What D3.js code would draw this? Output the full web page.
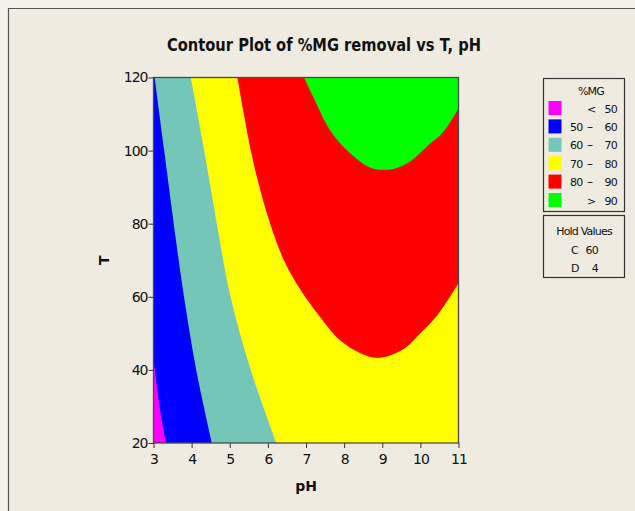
<!DOCTYPE html>
<html>
<head>
<meta charset="utf-8">
<title>Contour Plot of %MG removal vs T, pH</title>
<style>
  body { margin: 0; background: #f4f1ea; }
  svg text { font-family: "DejaVu Sans", Verdana, sans-serif; fill: #111; }
  .tick text { font-size: 14px; letter-spacing: -1px; }
</style>
</head>
<body>
<div id="chart"></div>
<script src="https://cdnjs.cloudflare.com/ajax/libs/d3/7.8.5/d3.min.js"></script>
<script>
// x / y ticks
const phTicks = [3, 4, 5, 6, 7, 8, 9, 10, 11];
const tTicks = [20, 40, 60, 80, 100, 120];

// contour bands (low -> high), colours and legend labels
const levels = ["< 50", "50 – 60", "60 – 70", "70 – 80", "80 – 90", "> 90"];
const bandColors = ["#ff00ff", "#0000ff", "#74c6b9", "#ffff00", "#ff0000", "#00ff00"];

// boundary lines, [pH, T]
const line50 = [[3.0, 42.7], [3.12, 33], [3.22, 26], [3.33, 20]];
const line60 = [[3.03, 120], [3.28, 100], [3.53, 80], [3.8, 60], [4.12, 40], [4.53, 20]];
const line70 = [[3.98, 120], [4.33, 100], [4.66, 80], [5.02, 60], [5.55, 40], [6.22, 20]];
const line80 = [[5.20, 120], [5.37, 110], [5.55, 100], [5.78, 90], [6.06, 80], [6.42, 70], [6.85, 62], [7.33, 55], [7.8, 49], [8.25, 45.5], [8.75, 43.4], [9.1, 43.6], [9.6, 46], [10.0, 50], [10.45, 55], [11.0, 63.7]];
const line90 = [[6.95, 120], [7.19, 114.7], [7.63, 105.6], [8.16, 99.3], [8.73, 95.2], [9.29, 95.0], [9.73, 97.0], [10.17, 101.1], [10.61, 105.2], [11.0, 111.6]];

// corners that close each "above the line" region
const close50 = [[11, 20], [11, 120], [3, 120]];
const closeRight = [[11, 20], [11, 120]];
const closeTop = [[11, 120]];

const holdNames = ["C", "D"];
const holdValues = [60, 4];

const width = 635, height = 511;
const margin = {left: 153.5, right: 176.5, top: 77.5, bottom: 68};

const svg = d3.select("#chart").append("svg")
  .attr("width", width).attr("height", height);

svg.append("rect").attr("x", 0).attr("y", 0).attr("width", width).attr("height", height).attr("fill", "#f4f1ea");
svg.append("rect").attr("x", 8).attr("y", 8).attr("width", width - 8).attr("height", height - 8).attr("fill", "#efebe0");
svg.append("path").attr("d", "M8.5," + height + "V8.5H" + width)
  .attr("fill", "none").attr("stroke", "#555").attr("stroke-width", 1.2);

const x = d3.scaleLinear().domain([3, 11]).range([margin.left, width - margin.right]);
const y = d3.scaleLinear().domain([20, 120]).range([height - margin.bottom, margin.top]);

svg.append("defs").append("clipPath").attr("id", "plotClip")
  .append("rect")
  .attr("x", x(3)).attr("y", y(120))
  .attr("width", x(11) - x(3)).attr("height", y(20) - y(120));

const plot = svg.append("g").attr("clip-path", "url(#plotClip)");

// lowest band fills everything, each next band painted on top
plot.append("rect")
  .attr("x", x(3)).attr("y", y(120))
  .attr("width", x(11) - x(3)).attr("height", y(20) - y(120))
  .attr("fill", bandColors[0]);

const curve = d3.line().x(d => x(d[0])).y(d => y(d[1])).curve(d3.curveCatmullRom.alpha(0.5));
const regions = [
  {line: line50, close: close50},
  {line: line60, close: closeRight},
  {line: line70, close: closeRight},
  {line: line80, close: closeTop},
  {line: line90, close: closeTop}
];
regions.forEach((r, i) => {
  let d = curve(r.line);
  r.close.forEach(c => { d += "L" + x(c[0]) + "," + y(c[1]); });
  plot.append("path").attr("d", d + "Z").attr("fill", bandColors[i + 1]);
});

// frame
svg.append("rect")
  .attr("x", x(3)).attr("y", y(120))
  .attr("width", x(11) - x(3)).attr("height", y(20) - y(120))
  .attr("fill", "none").attr("stroke", "#4a4a4a").attr("stroke-width", 1.3);

const xAxis = svg.append("g")
  .attr("transform", "translate(0," + y(20) + ")")
  .call(d3.axisBottom(x).tickValues(phTicks).tickFormat(d3.format("d")).tickSize(5).tickPadding(6));
const yAxis = svg.append("g")
  .attr("transform", "translate(" + x(3) + ",0)")
  .call(d3.axisLeft(y).tickValues(tTicks).tickFormat(d3.format("d")).tickSize(5).tickPadding(1));
[xAxis, yAxis].forEach(a => {
  a.select(".domain").remove();
  a.selectAll(".tick line").attr("stroke", "#333");
  a.selectAll(".tick text").attr("fill", "#111").style("font-size", "14px");
});

// title and axis labels
svg.append("text")
  .attr("x", 324).attr("y", 51)
  .attr("text-anchor", "middle")
  .attr("textLength", 314).attr("lengthAdjust", "spacingAndGlyphs")
  .style("font-size", "17px").style("font-weight", "bold")
  .text("Contour Plot of %MG removal vs T, pH");

svg.append("text")
  .attr("x", (x(3) + x(11)) / 2).attr("y", 491)
  .attr("text-anchor", "middle")
  .style("font-size", "14px").style("font-weight", "bold")
  .text("pH");

svg.append("text")
  .attr("transform", "translate(109," + (y(20) + y(120)) / 2 + ") rotate(-90)")
  .attr("text-anchor", "middle")
  .style("font-size", "14px").style("font-weight", "bold")
  .text("T");

// legend
const leg = svg.append("g");
leg.append("rect").attr("x", 543.5).attr("y", 78.5).attr("width", 81).attr("height", 133)
  .attr("fill", "none").attr("stroke", "#333").attr("stroke-width", 1.2);
leg.append("text").attr("x", 591).attr("y", 95).attr("text-anchor", "middle")
  .style("font-size", "11px").style("letter-spacing", "-0.8px").text("%MG");

levels.forEach((lab, i) => {
  const ry = 101 + i * 18.4;
  leg.append("rect").attr("x", 548.5).attr("y", ry).attr("width", 13).attr("height", 14)
    .attr("fill", bandColors[i]);
  const parts = lab.split(" ");
  const base = ry + 11.5;
  if (parts.length === 2) {
    leg.append("text").attr("x", 591.5).attr("y", base).attr("text-anchor", "middle")
      .style("font-size", "11px").text(parts[0]);
    leg.append("text").attr("x", 617).attr("y", base).attr("text-anchor", "end")
      .style("font-size", "11px").style("letter-spacing", "-0.8px").text(parts[1]);
  } else {
    leg.append("text").attr("x", 570).attr("y", base)
      .style("font-size", "11px").style("letter-spacing", "-0.8px").text(parts[0]);
    leg.append("text").attr("x", 590).attr("y", base).attr("text-anchor", "middle")
      .style("font-size", "12px").text(parts[1]);
    leg.append("text").attr("x", 617).attr("y", base).attr("text-anchor", "end")
      .style("font-size", "11px").style("letter-spacing", "-0.8px").text(parts[2]);
  }
});

const hold = svg.append("g");
hold.append("rect").attr("x", 543.5).attr("y", 215.5).attr("width", 81).attr("height", 62)
  .attr("fill", "none").attr("stroke", "#333").attr("stroke-width", 1.2);
hold.append("text").attr("x", 584).attr("y", 235).attr("text-anchor", "middle")
  .style("font-size", "11px").style("letter-spacing", "-0.8px").text("Hold Values");
holdNames.forEach((n, i) => {
  const base = 253.5 + i * 18.3;
  hold.append("text").attr("x", 571).attr("y", base).style("font-size", "11px").text(n);
  hold.append("text").attr("x", 598).attr("y", base).attr("text-anchor", "end")
    .style("font-size", "11px").style("letter-spacing", "-0.8px").text(holdValues[i]);
});
</script>
</body>
</html>
